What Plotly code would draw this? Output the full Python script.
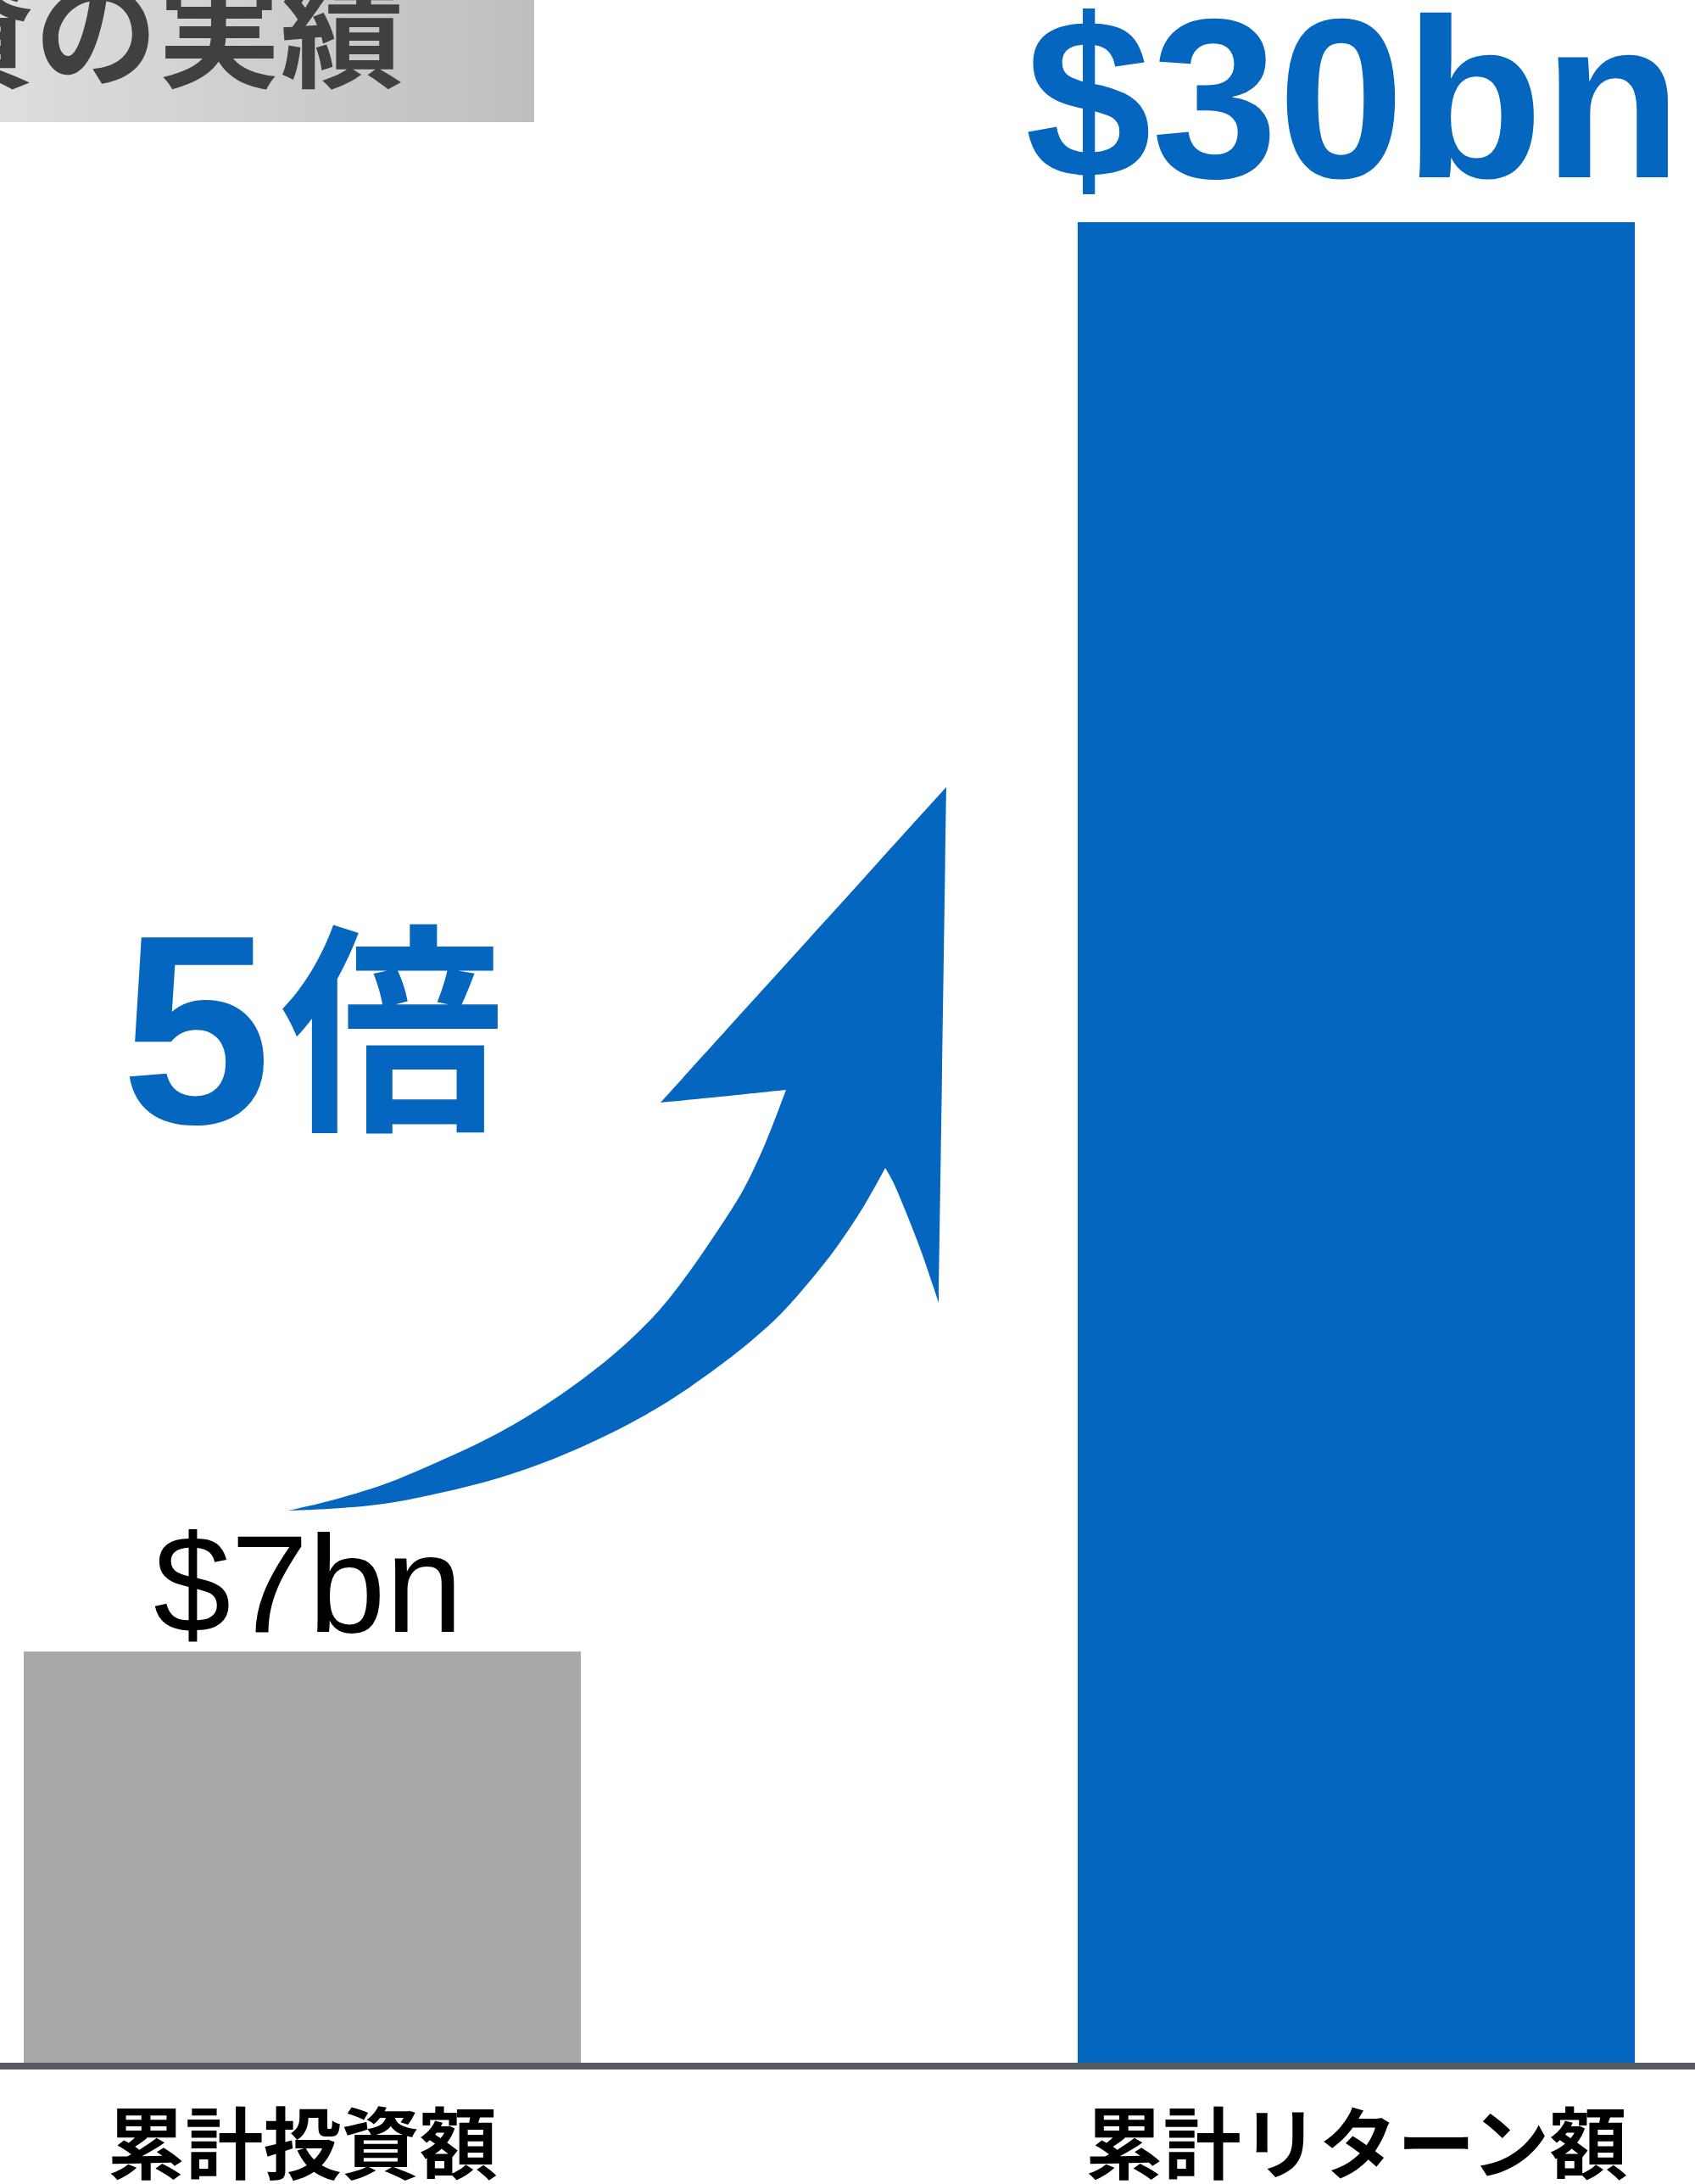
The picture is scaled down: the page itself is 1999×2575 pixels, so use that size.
import plotly.graph_objects as go

# ---- data ----
categories = ['累計投資額', '累計リターン額']
bar_heights = [6.7, 30]          # bar heights in the chart's scale ($bn); the $30bn bar is the reference
value_labels = ['$7bn', '$30bn']
multiple_label = ('<span style="font-family:\'Liberation Sans\', Arial;font-size:318px">5</span>'
                  '<span style="font-size:48px"> </span>'
                  '<span style="baseline-shift:11px">倍</span>')
title_text = '投資の実績'

# arrow outline, in page pixels. Sharp corners are listed twice so the spline keeps them pointed.
# tail -> upper edge -> left barb -> tip -> right barb -> lower edge
arrow_px_x = [340, 340, 387, 453, 520, 587, 653, 720, 770, 803, 847, 877, 903, 927, 927,
              850, 779, 779, 1116, 1116, 1107, 1107, 1087, 1070, 1053, 1044, 1044,
              1020, 987, 953, 920, 887, 853, 787, 720, 653, 587, 520, 453, 387, 340]
arrow_px_y = [1781, 1781, 1770, 1750, 1722, 1690, 1650, 1600, 1553, 1513, 1450, 1402, 1347, 1285, 1285,
              1293, 1300, 1300, 928, 928, 1536, 1536, 1477, 1433, 1393, 1377, 1377,
              1420, 1470, 1513, 1550, 1580, 1607, 1653, 1690, 1720, 1743, 1760, 1773, 1779, 1781]

# ---- page geometry ----
W, H = 1999, 2575
BASE = 2432                     # pixel row of the baseline
PX_PER_X = 1243                 # pixels between the two bar centres
X0 = -356.5 / PX_PER_X
X1 = X0 + W / PX_PER_X
PX_PER_Y = 2170 / 30
Y_TOP = BASE / PX_PER_Y

BLUE = '#0566c0'
GREY_BAR = '#a6a9a8'


def px_x(p):
    return X0 + p / PX_PER_X


def px_y(p):
    return (BASE - p) / PX_PER_Y


fig = go.Figure()

# title box with gradient (top-left, cropped)
fig.add_trace(go.Scatter(
    x=[px_x(0), px_x(630), px_x(630), px_x(0), px_x(0)],
    y=[px_y(0), px_y(0), px_y(144), px_y(144), px_y(0)],
    mode='lines', line=dict(width=0), fill='toself',
    fillgradient=dict(type='horizontal', colorscale=[[0, '#dedede'], [1, '#bebebe']]),
    hoverinfo='skip', showlegend=False,
))

# bars
fig.add_trace(go.Bar(
    x=[0, 1], y=bar_heights, width=657 / PX_PER_X,
    marker=dict(color=[GREY_BAR, BLUE], line=dict(width=0)),
    hoverinfo='skip', showlegend=False,
))

# arrow
fig.add_trace(go.Scatter(
    x=[px_x(v) for v in arrow_px_x], y=[px_y(v) for v in arrow_px_y],
    mode='lines', line=dict(width=0, color=BLUE, shape='spline', smoothing=1),
    fill='toself', fillcolor=BLUE,
    hoverinfo='skip', showlegend=False,
))

annotations = [
    dict(text=value_labels[0], x=px_x(363), y=px_y(1867), xref='x', yref='y',
         xanchor='center', yanchor='middle', showarrow=False,
         font=dict(family='Liberation Sans, Arial', size=164, color='black')),
    dict(text=value_labels[1], x=px_x(1596), y=px_y(116), xref='x', yref='y',
         xanchor='center', yanchor='middle', showarrow=False,
         font=dict(family='Liberation Sans, Arial', size=268, color=BLUE, weight='bold')),
    dict(text=multiple_label, x=px_x(368), y=px_y(1199), xref='x', yref='y',
         xanchor='center', yanchor='middle', showarrow=False,
         font=dict(family='Noto Sans CJK JP', size=263, color=BLUE, weight='bold')),
    dict(text=title_text, x=478 / W, y=1 - 29 / BASE, xref='paper', yref='paper',
         xanchor='right', yanchor='middle', showarrow=False,
         font=dict(family='Noto Sans CJK JP', size=145, color='#404040', weight='bold')),
]

fig.update_layout(
    width=W, height=H,
    margin=dict(l=0, r=0, t=0, b=H - BASE, pad=0),
    paper_bgcolor='white', plot_bgcolor='white',
    showlegend=False,
    annotations=annotations,
    xaxis=dict(range=[X0, X1], tickvals=[0, 1], ticktext=categories,
               showgrid=False, zeroline=False, ticks='', automargin=False,
               showline=True, linecolor='#575b61', linewidth=8,
               ticklabelstandoff=12,
               tickfont=dict(family='Noto Sans CJK JP', size=92, color='black', weight='bold'),
               fixedrange=True),
    yaxis=dict(range=[0, Y_TOP], visible=False, fixedrange=True, automargin=False),
)

# page body has an 8px default margin; drop it so the figure sits at the window corner
fig.write_html('out.html', config={'displayModeBar': False},
               post_script="document.body.style.margin='0';")
